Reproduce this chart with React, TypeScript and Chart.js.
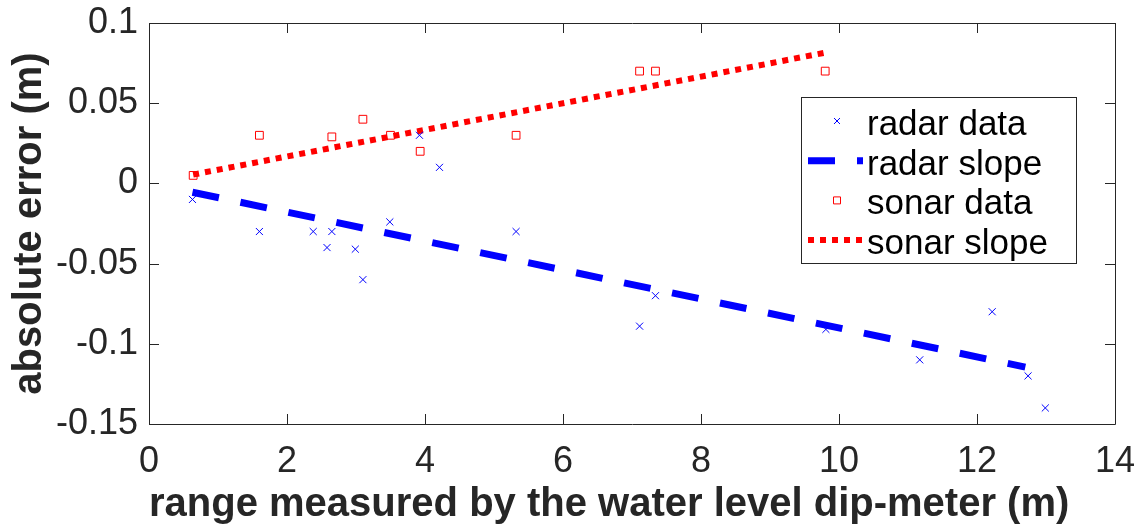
import React, { useEffect, useRef } from "react";
import { Chart, registerables } from "chart.js";

Chart.register(...registerables);

// ---- data ----
const radarX = [0.63, 1.6, 2.38, 2.58, 2.65, 2.99, 3.1, 3.49, 3.92, 4.21, 5.32, 7.11, 7.34, 9.81, 11.17, 12.22, 12.74, 12.99];
const radarY = [-0.01, -0.03, -0.03, -0.04, -0.03, -0.041, -0.06, -0.024, 0.03, 0.01, -0.03, -0.089, -0.07, -0.091, -0.11, -0.08, -0.12, -0.14];
const sonarX = [0.64, 1.6, 2.65, 3.1, 3.5, 3.93, 5.32, 7.11, 7.34, 9.8];
const sonarY = [0.005, 0.03, 0.029, 0.04, 0.03, 0.02, 0.03, 0.07, 0.07, 0.07];
const radarSlopeX = [0.63, 12.7];
const radarSlopeY = [-0.0055, -0.1145];
const sonarSlopeX = [0.64, 9.8];
const sonarSlopeY = [0.0055, 0.0815];

const xTickValues = [0, 2, 4, 6, 8, 10, 12, 14];
const xTickLabels = ["0", "2", "4", "6", "8", "10", "12", "14"];
const yTickValues = [-0.15, -0.1, -0.05, 0, 0.05, 0.1];
const yTickLabels = ["-0.15", "-0.1", "-0.05", "0", "0.05", "0.1"];

const seriesLabels = ["radar data", "radar slope", "sonar data", "sonar slope"];
const xTitle = "range measured by the water level dip-meter (m)";
const yTitle = "absolute error (m)";

const FONT = '"Liberation Sans", Arial, Helvetica, sans-serif';
const AXIS_COLOR = "#262626";

const toPoints = (xs: number[], ys: number[]) => xs.map((x, i) => ({ x, y: ys[i] }));

const findLabel = (vals: number[], labels: string[], v: number) => {
  const i = vals.findIndex((t) => Math.abs(t - v) < 1e-9);
  return i >= 0 ? labels[i] : "";
};

const boxTicksPlugin = {
  id: "boxTicks",
  afterDatasetsDraw(chart: any) {
    const { ctx, chartArea } = chart;
    const { left, right, top, bottom } = chartArea;
    const xs = chart.scales.x;
    const ys = chart.scales.y;
    const tl = 10;
    ctx.save();
    ctx.strokeStyle = AXIS_COLOR;
    ctx.lineWidth = 1;
    ctx.beginPath();
    ctx.rect(Math.round(left) + 0.5, Math.round(top) + 0.5, Math.round(right - left), Math.round(bottom - top));
    ctx.stroke();
    ctx.beginPath();
    xs.ticks.forEach((t: any) => {
      const px = Math.round(xs.getPixelForValue(t.value)) + 0.5;
      ctx.moveTo(px, bottom);
      ctx.lineTo(px, bottom - tl);
      ctx.moveTo(px, top);
      ctx.lineTo(px, top + tl);
    });
    ys.ticks.forEach((t: any) => {
      const py = Math.round(ys.getPixelForValue(t.value)) + 0.5;
      ctx.moveTo(left, py);
      ctx.lineTo(left + tl, py);
      ctx.moveTo(right, py);
      ctx.lineTo(right - tl, py);
    });
    ctx.stroke();
    ctx.restore();
  },
};

const legendPlugin = {
  id: "customLegend",
  afterDraw(chart: any) {
    const { ctx } = chart;
    const bx = 801, by = 97, bw = 275, bh = 166;
    ctx.save();
    ctx.fillStyle = "#ffffff";
    ctx.fillRect(bx, by, bw, bh);
    ctx.strokeStyle = AXIS_COLOR;
    ctx.lineWidth = 1;
    ctx.strokeRect(bx + 0.5, by + 0.5, bw, bh);
    const rowY0 = 121;
    const rowGap = 39.7;
    chart.data.datasets.forEach((ds: any, i: number) => {
      const cy = rowY0 + i * rowGap;
      if (ds.showLine) {
        ctx.save();
        ctx.strokeStyle = ds.borderColor;
        ctx.lineWidth = ds.borderWidth;
        ctx.lineCap = "butt";
        ctx.setLineDash(ds.borderDash || []);
        ctx.beginPath();
        ctx.moveTo(808, cy);
        ctx.lineTo(863, cy);
        ctx.stroke();
        ctx.restore();
      } else {
        ctx.save();
        ctx.strokeStyle = ds.pointBorderColor;
        ctx.lineWidth = 1;
        ctx.beginPath();
        const cx = 837;
        if (ds.pointStyle === "crossRot") {
          const h = 3;
          ctx.moveTo(cx - h, cy - h);
          ctx.lineTo(cx + h, cy + h);
          ctx.moveTo(cx + h, cy - h);
          ctx.lineTo(cx - h, cy + h);
        } else {
          ctx.rect(cx - 3.5, cy - 3.5, 7, 7);
        }
        ctx.stroke();
        ctx.restore();
      }
      ctx.fillStyle = "#000000";
      ctx.font = `35px ${FONT}`;
      ctx.textAlign = "left";
      ctx.textBaseline = "alphabetic";
      ctx.fillText(ds.label, 867, cy + 14);
    });
    ctx.restore();
  },
};

export default function App() {
  const canvasRef = useRef<HTMLCanvasElement | null>(null);

  useEffect(() => {
    if (!canvasRef.current) return;
    const chart = new Chart(canvasRef.current, {
      type: "scatter",
      data: {
        datasets: [
          {
            label: seriesLabels[0],
            data: toPoints(radarX, radarY),
            showLine: false,
            pointStyle: "crossRot",
            pointRadius: 5,
            pointBorderWidth: 1,
            pointBorderColor: "#0000ff",
            pointBackgroundColor: "#0000ff",
            borderColor: "#0000ff",
          },
          {
            label: seriesLabels[1],
            data: toPoints(radarSlopeX, radarSlopeY),
            showLine: true,
            pointRadius: 0,
            borderColor: "#0000ff",
            borderWidth: 7,
            borderDash: [27, 22],
            borderCapStyle: "butt",
            fill: false,
          },
          {
            label: seriesLabels[2],
            data: toPoints(sonarX, sonarY),
            showLine: false,
            pointStyle: "rect",
            pointRadius: 5.5,
            pointBorderWidth: 1,
            pointBorderColor: "#ff0000",
            pointBackgroundColor: "rgba(0,0,0,0)",
            borderColor: "#ff0000",
          },
          {
            label: seriesLabels[3],
            data: toPoints(sonarSlopeX, sonarSlopeY),
            showLine: true,
            pointRadius: 0,
            borderColor: "#ff0000",
            borderWidth: 6,
            borderDash: [6, 6],
            borderCapStyle: "butt",
            fill: false,
          },
        ],
      },
      options: {
        responsive: false,
        animation: false,
        events: [],
        layout: { padding: { top: 23, right: 26, left: 0, bottom: 0 } },
        plugins: {
          legend: { display: false },
          tooltip: { enabled: false },
        },
        scales: {
          x: {
            type: "linear",
            min: 0,
            max: 14,
            grid: { display: false, drawTicks: false },
            border: { display: false },
            afterBuildTicks: (scale: any) => {
              scale.ticks = xTickValues.map((v) => ({ value: v }));
            },
            afterFit: (scale: any) => {
              scale.height = 100;
              scale.paddingLeft = 0;
              scale.paddingRight = 0;
            },
            ticks: {
              padding: 16,
              color: AXIS_COLOR,
              font: { family: FONT, size: 36 },
              maxRotation: 0,
              callback: (v: any) => findLabel(xTickValues, xTickLabels, Number(v)),
            },
            title: {
              display: true,
              text: xTitle,
              align: "start",
              color: AXIS_COLOR,
              font: { family: FONT, size: 40, weight: "bold", lineHeight: 0.9 },
              padding: { top: 0, bottom: 1 },
            },
          },
          y: {
            type: "linear",
            min: -0.15,
            max: 0.1,
            grid: { display: false, drawTicks: false },
            border: { display: false },
            afterBuildTicks: (scale: any) => {
              scale.ticks = yTickValues.map((v) => ({ value: v }));
            },
            afterFit: (scale: any) => {
              scale.width = 149;
              scale.paddingTop = 0;
              scale.paddingBottom = 0;
            },
            ticks: {
              padding: 11,
              color: AXIS_COLOR,
              font: { family: FONT, size: 36 },
              callback: (v: any) => findLabel(yTickValues, yTickLabels, Number(v)),
            },
            title: {
              display: true,
              text: yTitle,
              color: AXIS_COLOR,
              font: { family: FONT, size: 40, weight: "bold" },
              padding: { top: 6, bottom: 0 },
            },
          },
        },
      } as any,
      plugins: [boxTicksPlugin, legendPlugin],
    });
    return () => chart.destroy();
  }, []);

  return (
    <div style={{ position: "absolute", left: 0, top: 0, width: 1141, height: 524, background: "#ffffff" }}>
      <canvas ref={canvasRef} width={1141} height={524} style={{ display: "block" }} />
    </div>
  );
}
